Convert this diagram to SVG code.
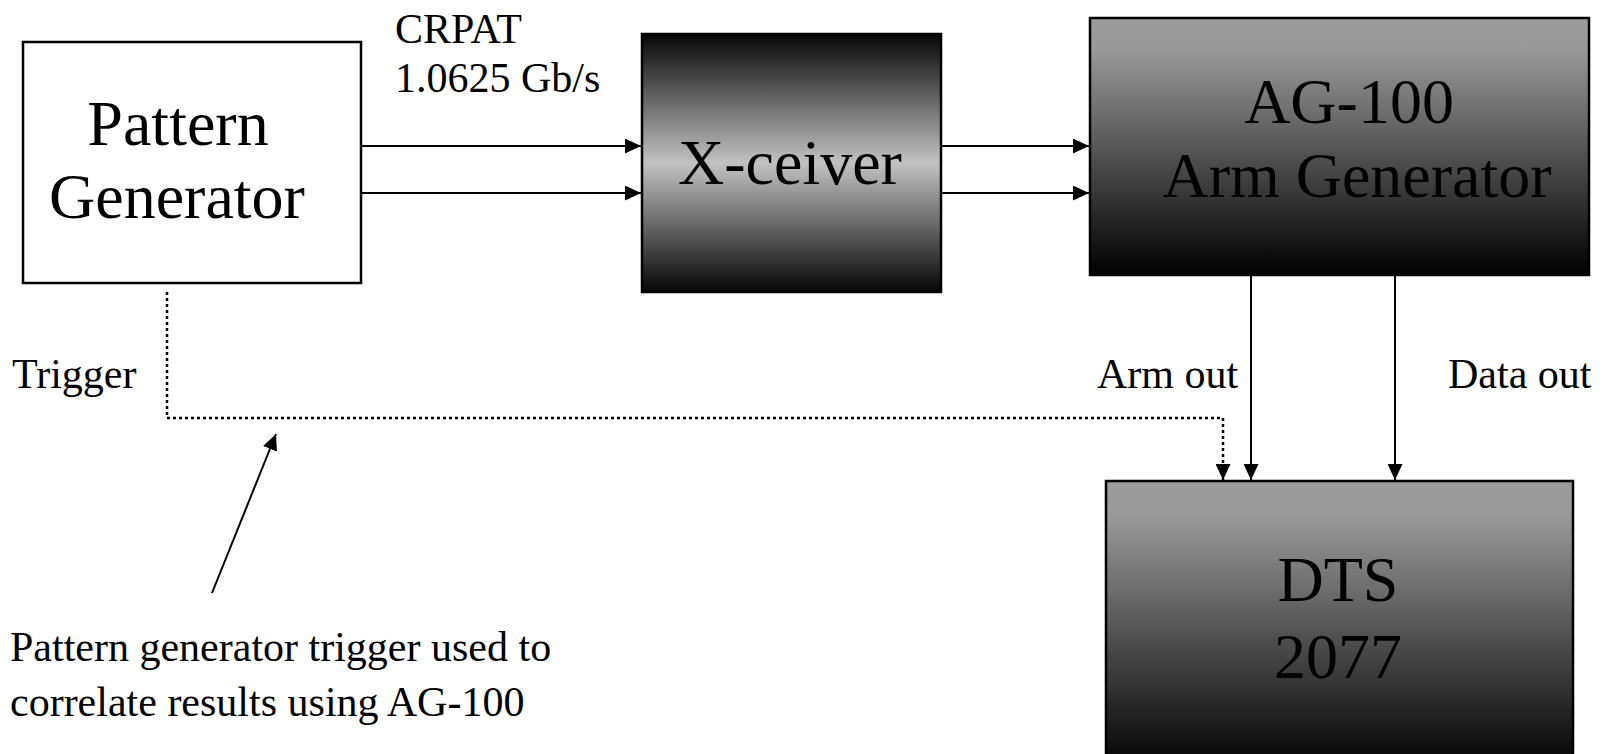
<svg xmlns="http://www.w3.org/2000/svg" width="1608" height="754" viewBox="0 0 1608 754">
<style>
text{font-family:"Liberation Serif","Times New Roman",serif;fill:#000}
.big{font-size:64px}
.small{font-size:42px}
.box{stroke:#000;stroke-width:2.5}
.wire{stroke:#000;stroke-width:2;fill:none}
.dot{stroke:#000;stroke-width:2.5;fill:none;stroke-dasharray:3 3}
</style>
<defs>
<linearGradient id="gx" x1="0" y1="0" x2="0" y2="1">
<stop offset="0" stop-color="#060606"/>
<stop offset="0.5" stop-color="#c2c2c2"/>
<stop offset="1" stop-color="#060606"/>
</linearGradient>
<linearGradient id="gd" x1="0" y1="0" x2="0" y2="1">
<stop offset="0" stop-color="#9c9c9c"/>
<stop offset="0.12" stop-color="#999"/>
<stop offset="1" stop-color="#000"/>
</linearGradient>
<marker id="ah" markerUnits="userSpaceOnUse" markerWidth="17" markerHeight="15" refX="16" refY="7.5" orient="auto">
<path d="M0,0 L16,7.5 L0,15 z" fill="#000"/>
</marker>
</defs>
<g id="pattern-generator">
<rect class="box" x="23" y="42" width="338" height="241" fill="#fff"/>
<text class="big" x="178" y="145" text-anchor="middle">Pattern</text>
<text class="big" x="177" y="218" text-anchor="middle">Generator</text>
</g>
<g id="xceiver">
<rect class="box" x="642" y="34" width="299" height="258" fill="url(#gx)"/>
<text class="big" x="790" y="184" text-anchor="middle">X-ceiver</text>
</g>
<g id="ag100">
<rect class="box" x="1090" y="18" width="499" height="257" fill="url(#gd)"/>
<text class="big" x="1349" y="123" text-anchor="middle">AG-100</text>
<text class="big" x="1357" y="197" text-anchor="middle">Arm Generator</text>
</g>
<g id="dts">
<rect class="box" x="1106" y="481" width="467" height="290" fill="url(#gd)"/>
<text class="big" x="1338" y="601" text-anchor="middle">DTS</text>
<text class="big" x="1338" y="678" text-anchor="middle">2077</text>
</g>
<g id="labels">
<text class="small" x="395" y="43">CRPAT</text>
<text class="small" x="395" y="92">1.0625 Gb/s</text>
<text class="small" x="12" y="388">Trigger</text>
<text class="small" x="1097" y="388">Arm out</text>
<text class="small" x="1448" y="388">Data out</text>
<text class="small" x="10" y="661">Pattern generator trigger used to</text>
<text class="small" x="10" y="716">correlate results using AG-100</text>
</g>
<g id="connectors">
<line class="wire" x1="361" y1="146" x2="641" y2="146" marker-end="url(#ah)"/>
<line class="wire" x1="361" y1="193" x2="641" y2="193" marker-end="url(#ah)"/>
<line class="wire" x1="941" y1="146" x2="1089" y2="146" marker-end="url(#ah)"/>
<line class="wire" x1="941" y1="193" x2="1089" y2="193" marker-end="url(#ah)"/>
<line class="wire" x1="1251" y1="275" x2="1251" y2="480" marker-end="url(#ah)"/>
<line class="wire" x1="1395" y1="275" x2="1395" y2="480" marker-end="url(#ah)"/>
<path class="dot" d="M167,292 L167,418 L1223,418 L1223,480" marker-end="url(#ah)"/>
<line class="wire" x1="212" y1="593" x2="276" y2="434" marker-end="url(#ah)"/>
</g>
</svg>
